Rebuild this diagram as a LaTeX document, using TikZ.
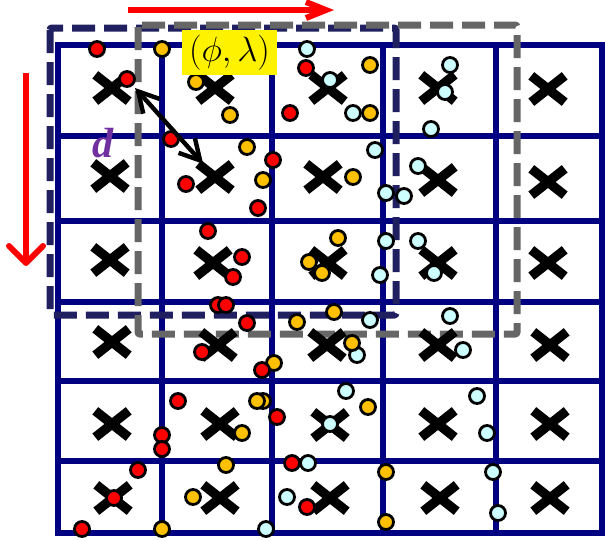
\RequirePackage{fix-cm}
\documentclass[tikz,border=0pt]{standalone}
\usepackage{fontspec}
\newfontfamily\timesfont{Liberation Serif}
\usepackage{tikz}
\usetikzlibrary{arrows.meta,shapes.misc,positioning}
\usepackage{xcolor}
\definecolor{gridnavy}{HTML}{000080}
\definecolor{winnavy}{HTML}{202060}
\definecolor{wingray}{HTML}{666666}
\definecolor{obsred}{HTML}{FF0000}
\definecolor{obsgold}{HTML}{FFC000}
\definecolor{obscyan}{HTML}{CCFFFF}
\definecolor{dpurple}{HTML}{7030A0}

\begin{document}
\begin{tikzpicture}[
  x=0.5mm, y=-0.5mm,
  gridline/.style={draw=gridnavy, line width=3.2mm},
  gpt/.style={cross out, draw=black, line width=4.7mm, minimum width=12mm, minimum height=8.5mm, inner sep=0pt},
  obs/.style={circle, draw=black, line width=1.4mm, minimum size=7.5mm, inner sep=0pt},
  obsR/.style={obs, fill=obsred},
  obsY/.style={obs, fill=obsgold},
  obsC/.style={obs, fill=obscyan},
  winA/.style={draw=winnavy, line width=3.5mm, dash pattern=on 11.5mm off 4.5mm, rounded corners=1mm},
  winB/.style={draw=wingray, line width=3.5mm, dash pattern=on 11.5mm off 4.5mm, rounded corners=1mm},
  scan/.style={draw=red, line width=3mm},
  dist/.style={{Straight Barb[length=10mm,width=11mm]}-{Straight Barb[length=10mm,width=11mm]}, draw=black, line width=2.2mm}
]
\useasboundingbox (0,0) rectangle (605,540);

% --- Malla ---
\draw[gridline] (58,45) rectangle (602,533);
\draw[gridline] (162,45) -- (162,533);
\draw[gridline] (272,45) -- (272,533);
\draw[gridline] (383,45) -- (383,533);
\draw[gridline] (496,45) -- (496,533);
\draw[gridline] (58,136) -- (602,136);
\draw[gridline] (58,221) -- (602,221);
\draw[gridline] (58,302) -- (602,302);
\draw[gridline] (58,381) -- (602,381);
\draw[gridline] (58,461) -- (602,461);

% --- Ventanas ---
\draw[winA] (50,28) rectangle (396,315);
\draw[winB] (138,25) rectangle (517,334);

% --- Puntos de malla ---
\node[gpt] (g11) at (112,88) {};
\node[gpt] (g12) at (215,88) {};
\node[gpt] (g13) at (328,88) {};
\node[gpt] (g14) at (438,88) {};
\node[gpt] (g15) at (548,89) {};
\node[gpt] (g21) at (110,176) {};
\node[gpt] (g22) at (215,177) {};
\node[gpt] (g23) at (323,177) {};
\node[gpt] (g24) at (438,180) {};
\node[gpt] (g25) at (548,182) {};
\node[gpt] (g31) at (110,260) {};
\node[gpt] (g32) at (213,263) {};
\node[gpt] (g33) at (328,263) {};
\node[gpt] (g34) at (438,263) {};
\node[gpt] (g35) at (548,263) {};
\node[gpt] (g41) at (112,342) {};
\node[gpt] (g42) at (218,345) {};
\node[gpt] (g43) at (327,345) {};
\node[gpt] (g44) at (438,345) {};
\node[gpt] (g45) at (550,345) {};
\node[gpt] (g51) at (112,424) {};
\node[gpt] (g52) at (220,424) {};
\node[gpt] (g53) at (330,425) {};
\node[gpt] (g54) at (438,424) {};
\node[gpt] (g55) at (550,424) {};
\node[gpt] (g61) at (113,498) {};
\node[gpt] (g62) at (220,498) {};
\node[gpt] (g63) at (330,498) {};
\node[gpt] (g64) at (440,498) {};
\node[gpt] (g65) at (550,498) {};

% --- Observaciones ---
\node[obsC] (c1) at (307,49) {};
\node[obsC] (c2) at (330,80) {};
\node[obsC] (c3) at (353,113) {};
\node[obsC] (c4) at (450,65) {};
\node[obsC] (c5) at (445,92) {};
\node[obsC] (c6) at (431,129) {};
\node[obsC] (c7) at (375,150) {};
\node[obsC] (c8) at (418,166) {};
\node[obsC] (c9) at (386,193) {};
\node[obsC] (c10) at (404,196) {};
\node[obsC] (c11) at (386,241) {};
\node[obsC] (c12) at (418,241) {};
\node[obsC] (c13) at (380,275) {};
\node[obsC] (c14) at (434,273) {};
\node[obsC] (c15) at (370,320) {};
\node[obsC] (c16) at (450,316) {};
\node[obsC] (c17) at (357,355) {};
\node[obsC] (c18) at (463,350) {};
\node[obsC] (c19) at (346,391) {};
\node[obsC] (c20) at (330,424) {};
\node[obsC] (c21) at (477,396) {};
\node[obsC] (c22) at (487,433) {};
\node[obsC] (c23) at (308,463) {};
\node[obsC] (c24) at (287,497) {};
\node[obsC] (c25) at (493,472) {};
\node[obsC] (c26) at (266,529) {};
\node[obsC] (c27) at (498,513) {};

\node[obsY] (y1) at (162,49) {};
\node[obsY] (y2) at (196,82) {};
\node[obsY] (y3) at (230,115) {};
\node[obsY] (y4) at (247,147) {};
\node[obsY] (y5) at (263,180) {};
\node[obsY] (y6) at (370,65) {};
\node[obsY] (y7) at (370,113) {};
\node[obsY] (y8) at (353,177) {};
\node[obsY] (y9) at (338,238) {};
\node[obsY] (y10) at (309,262) {};
\node[obsY] (y11) at (322,273) {};
\node[obsY] (y12) at (297,322) {};
\node[obsY] (y13) at (334,312) {};
\node[obsY] (y14) at (352,343) {};
\node[obsY] (y15) at (274,363) {};
\node[obsY] (y16) at (263,401) {};
\node[obsY] (y17) at (257,401) {};
\node[obsY] (y18) at (242,433) {};
\node[obsY] (y19) at (368,407) {};
\node[obsY] (y20) at (226,465) {};
\node[obsY] (y21) at (193,497) {};
\node[obsY] (y22) at (386,472) {};
\node[obsY] (y23) at (162,529) {};
\node[obsY] (y24) at (386,522) {};

\node[obsR] (r1) at (97,49) {};
\node[obsR] (r2) at (127,79) {};
\node[obsR] (r3) at (290,113) {};
\node[obsR] (r4) at (306,68) {};
\node[obsR] (r5) at (171,139) {};
\node[obsR] (r6) at (273,160) {};
\node[obsR] (r7) at (186,184) {};
\node[obsR] (r8) at (258,208) {};
\node[obsR] (r9) at (208,231) {};
\node[obsR] (r10) at (242,257) {};
\node[obsR] (r11) at (233,277) {};
\node[obsR] (r12) at (218,305) {};
\node[obsR] (r13) at (226,305) {};
\node[obsR] (r14) at (247,323) {};
\node[obsR] (r15) at (202,352) {};
\node[obsR] (r16) at (262,370) {};
\node[obsR] (r17) at (178,401) {};
\node[obsR] (r18) at (277,417) {};
\node[obsR] (r19) at (162,435) {};
\node[obsR] (r20) at (162,449) {};
\node[obsR] (r21) at (138,470) {};
\node[obsR] (r22) at (292,463) {};
\node[obsR] (r23) at (114,498) {};
\node[obsR] (r24) at (307,507) {};
\node[obsR] (r25) at (82,529) {};

% --- Etiquetas ---
\node[fill=yellow, minimum width=47.5mm, minimum height=22.5mm, inner sep=0pt, font=\fontsize{50}{60}\selectfont] (ang) at (229.5,52.5) {$(\phi,\lambda)$};
\node[font=\timesfont\bfseries\itshape\fontsize{60}{70}\selectfont, text=dpurple, inner sep=0pt] (dlbl) at (103,143) {d};

% --- Flechas ---
\draw[dist, shorten <=1.6mm] (r2) -- (g22);
\coordinate (lonA) at (128,10);
\coordinate (lonB) at (334,10);
\coordinate (latA) at (26,73);
\coordinate (latB) at (26,266);
\draw[scan, -{Straight Barb[length=10mm,width=8mm]}] (lonA) -- (lonB);
\draw[scan, -{Straight Barb[length=8.5mm,width=17mm,round]}] (latA) -- (latB);

\end{tikzpicture}
\end{document}
